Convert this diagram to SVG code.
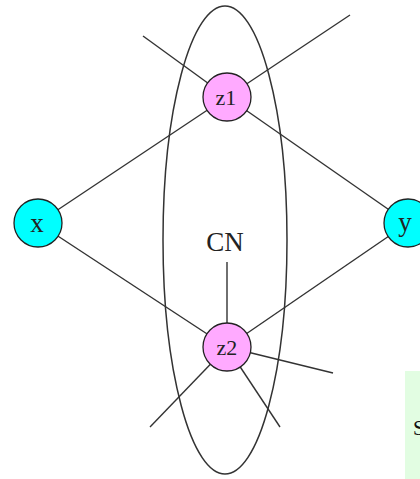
<svg xmlns="http://www.w3.org/2000/svg" width="420" height="479" viewBox="0 0 420 479">
<style>
.edge{stroke:#333;stroke-width:1.4;fill:none}
.ell{stroke:#333;stroke-width:1.5;fill:none}
.cyan{fill:#00ffff;stroke:#222;stroke-width:1.3}
.pink{fill:#ffaaff;stroke:#222;stroke-width:1.3}
.lbl{font-family:"Liberation Serif",serif;fill:#222;text-anchor:middle}
</style>
<rect width="420" height="479" fill="#fff"/>
<g id="connectors">
<line class="edge" x1="143" y1="36" x2="227" y2="97"/>
<line class="edge" x1="350" y1="15" x2="227" y2="97"/>
<line class="edge" x1="38" y1="223" x2="227" y2="97"/>
<line class="edge" x1="408" y1="223" x2="227" y2="97"/>
<line class="edge" x1="38" y1="223" x2="227" y2="347"/>
<line class="edge" x1="408" y1="223" x2="227" y2="347"/>
<line class="edge" x1="150" y1="427" x2="227" y2="347"/>
<line class="edge" x1="280" y1="427" x2="227" y2="347"/>
<line class="edge" x1="333" y1="373" x2="227" y2="347"/>
<line class="edge" x1="227" y1="262" x2="227" y2="323"/>
</g>
<g id="cn">
<ellipse class="ell" cx="225" cy="240" rx="62" ry="234"/>
<text class="lbl" x="225" y="251" font-size="27">CN</text>
</g>
<g id="z1">
<circle class="pink" cx="227" cy="97" r="24"/>
<text class="lbl" x="226" y="105" font-size="22">z1</text>
</g>
<g id="z2">
<circle class="pink" cx="227" cy="347" r="24"/>
<text class="lbl" x="227" y="355" font-size="22">z2</text>
</g>
<g id="x">
<circle class="cyan" cx="38" cy="223" r="24"/>
<text class="lbl" x="37" y="232" font-size="27">x</text>
</g>
<g id="y">
<circle class="cyan" cx="408" cy="223" r="24"/>
<text class="lbl" x="405" y="231" font-size="27">y</text>
</g>
<g id="box">
<rect x="405" y="371" width="20" height="110" fill="#e2fde2"/>
<text x="413" y="435" font-family="Liberation Serif,serif" font-size="21" fill="#111">S</text>
</g>
</svg>
